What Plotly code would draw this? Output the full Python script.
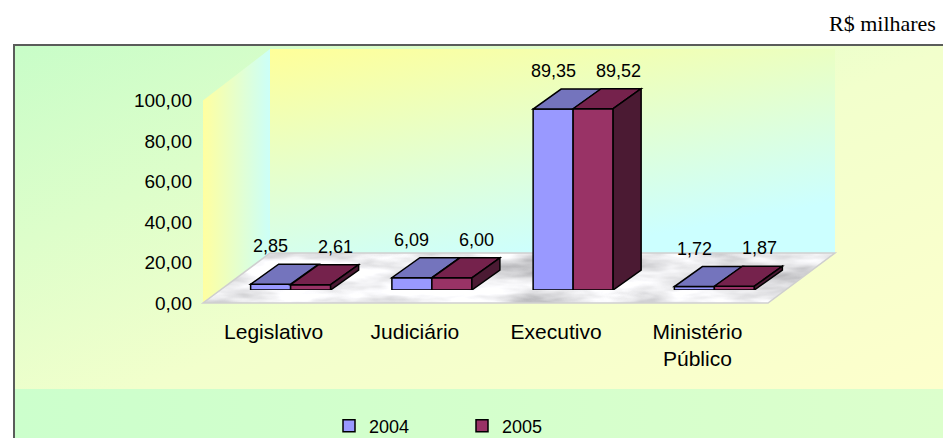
import base64
import plotly.graph_objects as go

# ---------------- data ----------------
categories = ["Legislativo", "Judiciário", "Executivo", "Ministério<br>Público"]
values_2004 = [2.85, 6.09, 89.35, 1.72]
values_2005 = [2.61, 6.00, 89.52, 1.87]
series_names = ["2004", "2005"]
y_tick_values = [0, 20, 40, 60, 80, 100]
unit_label = "R$ milhares"

# ---------------- styles / geometry (pixels) ----------------
W, H = 943, 438
AX_L, AX_R = 203, 768          # front plane of the floor
Y0_PX, Y100_PX = 303, 100.5    # pixel rows of 0 and 100 on the value axis
FLOOR_DX, FLOOR_DY = 67, 50    # floor depth
BAR_SHIFT_X, BAR_SHIFT_Y = 17, 13
DEPTH_X, DEPTH_Y = 28, 20      # bar depth
BAR_PX = 40

BLUE_FRONT, BLUE_TOP = "#9999ff", "#7474bd"
RED_FRONT, RED_TOP, RED_SIDE = "#993366", "#75224c", "#4b1a33"
FONT = "Liberation Sans, Arial, sans-serif"


def fx(x):
    return x / W


def fy(y):
    return (H - y) / H


n = len(categories)
cat_px = (AX_R - AX_L) / n
val_px = (Y0_PX - Y100_PX) / 100.0
bw = BAR_PX / cat_px
dxc = DEPTH_X / cat_px
dyv = DEPTH_Y / val_px

# ---------------- background decoration (SVG) ----------------
fl = [(AX_L, Y0_PX), (AX_R, Y0_PX), (AX_R + FLOOR_DX, Y0_PX - FLOOR_DY), (AX_L + FLOOR_DX, Y0_PX - FLOOR_DY)]
wall_top = 49
lw = [(AX_L, Y100_PX), (AX_L + FLOOR_DX, wall_top), (AX_L + FLOOR_DX, Y0_PX - FLOOR_DY), (AX_L, Y0_PX)]


def pts(p):
    return " ".join(f"{a},{b}" for a, b in p)


svg = f'''<svg xmlns="http://www.w3.org/2000/svg" width="{W}" height="{H}" viewBox="0 0 {W} {H}">
<defs>
<linearGradient id="bg" x1="0" y1="0" x2="1" y2="1">
<stop offset="0" stop-color="#c8fdc8"/><stop offset="0.5" stop-color="#f2ffcc"/><stop offset="1" stop-color="#ffffcc"/>
</linearGradient>
<linearGradient id="lg" x1="0" y1="0" x2="1" y2="0">
<stop offset="0" stop-color="#ccffcc"/><stop offset="1" stop-color="#dcffcc"/>
</linearGradient>
<linearGradient id="bw" x1="0" y1="0" x2="0.5" y2="1">
<stop offset="0" stop-color="#ffff99"/><stop offset="1" stop-color="#ccffff"/>
</linearGradient>
<linearGradient id="lw" x1="0" y1="0" x2="1" y2="0">
<stop offset="0" stop-color="#ffffa0"/><stop offset="1" stop-color="#ccfff8"/>
</linearGradient>
<filter id="marble" x="0" y="0" width="100%" height="100%">
<feTurbulence type="fractalNoise" baseFrequency="0.012 0.05" numOctaves="4" seed="7" result="n"/>
<feColorMatrix in="n" type="matrix" values="1.2 0 0 0 0.24  1.2 0 0 0 0.24  1.2 0 0 0 0.26  0 0 0 0 1" result="c"/>
<feComposite in="c" in2="SourceGraphic" operator="in"/>
</filter>
</defs>
<rect x="14" y="45" width="940" height="400" fill="url(#bg)" stroke="#5a5c5a" stroke-width="2"/>
<rect x="15" y="389" width="930" height="50" fill="url(#lg)"/>
<rect x="{AX_L + FLOOR_DX}" y="{wall_top}" width="{AX_R - AX_L}" height="{Y0_PX - FLOOR_DY - wall_top}" fill="url(#bw)"/>
<polygon points="{pts(lw)}" fill="url(#lw)"/>
<polygon points="{pts(fl)}" fill="#dddddd" filter="url(#marble)"/>
<polygon points="{pts(fl)}" fill="none" stroke="#cfcfcf" stroke-width="1.5"/>
</svg>'''
svg_uri = "data:image/svg+xml;base64," + base64.b64encode(svg.encode("utf-8")).decode()

# ---------------- figure ----------------
fig = go.Figure()
for name, vals, col in [(series_names[0], values_2004, BLUE_FRONT), (series_names[1], values_2005, RED_FRONT)]:
    fig.add_trace(go.Bar(
        x=categories, y=vals, name=name, xaxis="x2", yaxis="y2",
        marker=dict(color=col, line=dict(color="#000000", width=1.5)),
        hoverinfo="skip",
    ))
# invisible trace to carry the front axes
fig.add_trace(go.Scatter(x=categories, y=[None] * n, mode="markers", showlegend=False, hoverinfo="skip"))

shapes = []
annotations = []
for i in range(n):
    v1, v2 = values_2004[i], values_2005[i]
    shapes.append(dict(type="path", xref="x2", yref="y2", layer="above",
                       path=f"M{i - bw},{v1} L{i},{v1} L{i + dxc},{v1 + dyv} L{i - bw + dxc},{v1 + dyv} Z",
                       fillcolor=BLUE_TOP, line=dict(color="#000000", width=1.5)))
    shapes.append(dict(type="path", xref="x2", yref="y2", layer="above",
                       path=f"M{i},{v2} L{i + bw},{v2} L{i + bw + dxc},{v2 + dyv} L{i + dxc},{v2 + dyv} Z",
                       fillcolor=RED_TOP, line=dict(color="#000000", width=1.5)))
    shapes.append(dict(type="path", xref="x2", yref="y2", layer="above",
                       path=f"M{i + bw},0 L{i + bw},{v2} L{i + bw + dxc},{v2 + dyv} L{i + bw + dxc},{dyv} Z",
                       fillcolor=RED_SIDE, line=dict(color="#000000", width=1.5)))
    for v, xpos in [(v1, i - bw / 2), (v2, i + bw / 2 + 25 / cat_px)]:
        annotations.append(dict(xref="x2", yref="y2", x=xpos, y=v + dyv, yshift=18,
                                text=f"{v:.2f}".replace(".", ","), showarrow=False,
                                font=dict(family=FONT, size=18, color="#000000"),
                                xanchor="center", yanchor="middle"))

annotations.append(dict(xref="paper", yref="paper", x=fx(938), y=fy(23), text=unit_label,
                        showarrow=False, xanchor="right", yanchor="middle",
                        font=dict(family="Liberation Serif, Times New Roman, serif", size=22, color="#000000")))

fig.update_layout(
    width=W, height=H, margin=dict(l=0, r=0, t=0, b=0, autoexpand=False),
    paper_bgcolor="white", plot_bgcolor="rgba(0,0,0,0)",
    separators=",.",
    barmode="group", bargap=1 - 2 * bw, bargroupgap=0,
    showlegend=True,
    legend=dict(orientation="h", x=fx(329), y=fy(426), xanchor="left", yanchor="middle",
                bgcolor="rgba(0,0,0,0)", font=dict(family=FONT, size=18, color="#000000"),
                entrywidth=88, entrywidthmode="pixels", traceorder="normal"),
    xaxis=dict(domain=[fx(AX_L), fx(AX_R)], type="category", categoryorder="array", categoryarray=categories,
               range=[-0.5, n - 0.5], anchor="y", showgrid=False, zeroline=False, showline=False,
               ticks="", ticklen=0, ticklabelstandoff=14, automargin=False,
               tickfont=dict(family=FONT, size=21, color="#000000"), fixedrange=True),
    yaxis=dict(domain=[fy(Y0_PX), fy(Y100_PX)], range=[0, 100], anchor="x", tickvals=y_tick_values,
               tickformat=".2f", showgrid=False, zeroline=False, showline=False, ticks="", automargin=False,
               ticklabelstandoff=10, tickfont=dict(family=FONT, size=19, color="#000000"), fixedrange=True),
    xaxis2=dict(domain=[fx(AX_L + BAR_SHIFT_X), fx(AX_R + BAR_SHIFT_X)], type="category",
                categoryorder="array", categoryarray=categories, range=[-0.5, n - 0.5],
                anchor="y2", visible=False, fixedrange=True),
    yaxis2=dict(domain=[fy(Y0_PX - BAR_SHIFT_Y), fy(Y100_PX - BAR_SHIFT_Y)], range=[0, 100],
                anchor="x2", visible=False, fixedrange=True),
    shapes=shapes, annotations=annotations,
    images=[dict(source=svg_uri, xref="paper", yref="paper", x=0, y=1, sizex=1, sizey=1,
                 xanchor="left", yanchor="top", sizing="stretch", layer="below")],
)

fig.write_html("out.html", config={"displayModeBar": False},
               post_script="document.body.style.margin='0';")
